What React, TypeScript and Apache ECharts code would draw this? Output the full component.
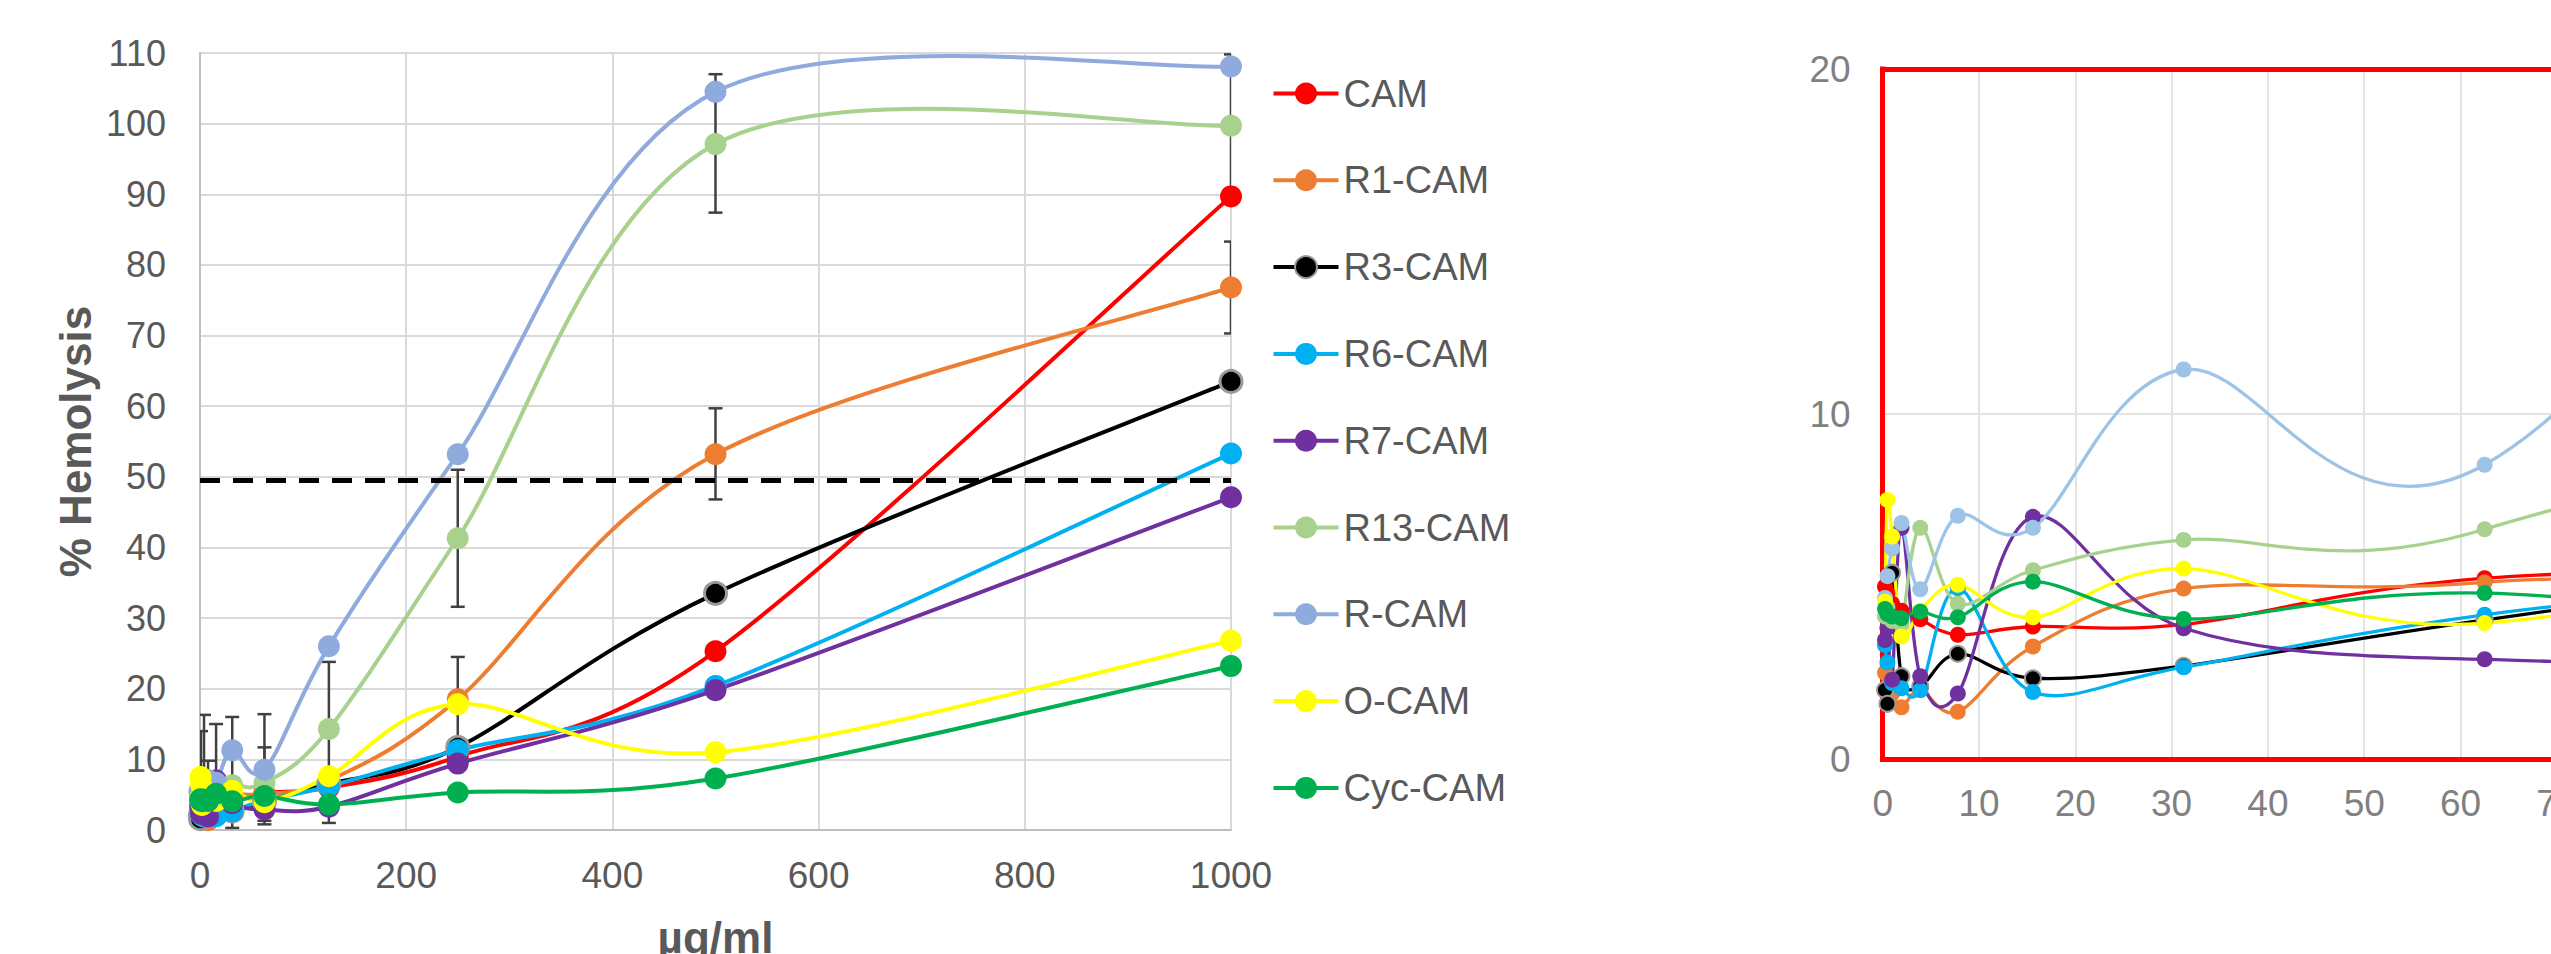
import React, { useEffect, useRef } from 'react';
import * as echarts from 'echarts';

// Concentrations (µg/ml)
const concentrations = [0.24, 0.49, 0.98, 1.95, 3.9, 7.8, 15.6, 31.25, 62.5, 125, 250, 500, 1000];

const seriesNames = ['CAM', 'R1-CAM', 'R3-CAM', 'R6-CAM', 'R7-CAM', 'R13-CAM', 'R-CAM', 'O-CAM', 'Cyc-CAM'];

// % Hemolysis per series
const cam = [5.0, 4.8, 4.5, 4.3, 4.05, 3.6, 3.84, 3.9, 5.24, 6.0, 10.4, 25.3, 89.7];
const r1Cam = [2.5, 2.1, 1.9, 1.5, 2.0, 1.37, 3.26, 4.94, 5.12, 7.0, 18.5, 53.2, 76.8];
const r3Cam = [2.0, 1.6, 5.4, 2.4, 2.1, 3.05, 2.34, 2.7, 4.03, 6.5, 11.7, 33.5, 63.5];
const r6Cam = [3.3, 2.8, 2.2, 2.05, 2.0, 4.95, 1.94, 2.66, 4.18, 6.2, 11.3, 20.4, 53.3];
const r7Cam = [3.45, 3.8, 2.3, 6.7, 2.4, 1.9, 7.02, 3.79, 2.89, 3.3, 9.4, 19.8, 47.1];
const r13Cam = [4.13, 4.4, 4.0, 3.9, 6.7, 4.5, 5.47, 6.35, 6.66, 14.3, 41.3, 97.1, 99.7];
const rCam = [4.67, 5.3, 6.1, 6.84, 4.92, 7.05, 6.7, 11.29, 8.53, 26.0, 53.2, 104.5, 108.1];
const oCam = [4.56, 7.51, 6.45, 3.55, 4.3, 5.05, 4.11, 5.52, 3.94, 7.6, 17.8, 11.0, 26.8];
const cycCam = [4.35, 4.2, 4.13, 4.08, 4.27, 4.11, 5.14, 4.06, 4.81, 3.6, 5.3, 7.3, 23.2];

const mainColors = ['#FF0000', '#ED7D31', '#000000', '#00B0F0', '#7030A0', '#A9D18E', '#8FAADC', '#FFFF00', '#00B050'];
const insetColors = ['#FF0000', '#ED7D31', '#000000', '#00B0F0', '#7030A0', '#A9D18E', '#9DC3E6', '#FFFF00', '#00B050'];

// Error bars: [concentration, low, high]
const errorBars = [
  [0.98, 1.5, 14.0],
  [3.9, 2.0, 16.3],
  [7.8, 1.0, 9.8],
  [15.6, 3.0, 15.0],
  [31.25, 0.3, 16.0],
  [62.5, 0.8, 16.4],
  [62.5, 1.3, 11.7],
  [125, 4.8, 23.8],
  [125, 1.0, 6.2],
  [250, 31.6, 51.0],
  [250, 11.6, 24.5],
  [500, 87.4, 107.0],
  [500, 46.8, 59.7],
  [1000, 89.6, 109.8],
  [1000, 70.3, 83.3],
];

const threshold = 49.5;
const insetPointCount = 10; // inset markers up to 125 µg/ml

const FONT = "'Liberation Sans', Arial, sans-serif";

export default function App() {
  const ref = useRef<HTMLDivElement>(null);

  useEffect(() => {
    const chart = echarts.init(ref.current as HTMLDivElement, null, { renderer: 'svg' });
    const values = [cam, r1Cam, r3Cam, r6Cam, r7Cam, r13Cam, rCam, oCam, cycCam];
    const pairs = (arr: number[], n: number) => concentrations.slice(0, n).map((x, i) => [x, arr[i]]);

    // Smoothed curve (Catmull-Rom style Bezier segments) drawn through the axis scales
    const curve = (vals: number[], color: string, width: number, axis: number) => ({
      type: 'custom',
      xAxisIndex: axis,
      yAxisIndex: axis,
      clip: true,
      silent: true,
      z: 2,
      data: pairs(vals, concentrations.length),
      encode: { x: 0, y: 1 },
      renderItem: (params: any, api: any) => {
        const i = params.dataIndex;
        const n = concentrations.length;
        if (i >= n - 1) return null;
        const P = (k: number) => api.coord([concentrations[k], vals[k]]);
        const p0 = P(Math.max(i - 1, 0));
        const p1 = P(i);
        const p2 = P(i + 1);
        const p3 = P(Math.min(i + 2, n - 1));
        return {
          type: 'bezierCurve',
          shape: {
            x1: p1[0],
            y1: p1[1],
            cpx1: p1[0] + (p2[0] - p0[0]) / 6,
            cpy1: p1[1] + (p2[1] - p0[1]) / 6,
            cpx2: p2[0] - (p3[0] - p1[0]) / 6,
            cpy2: p2[1] - (p3[1] - p1[1]) / 6,
            x2: p2[0],
            y2: p2[1],
          },
          style: { stroke: color, lineWidth: width, fill: 'none' },
        };
      },
    });

    const mainCurves = values.map((v, i) => curve(v, mainColors[i], 4, 0));
    const insetCurves = values.map((v, i) => curve(v, insetColors[i], 3.3, 1));

    const mainMarkers: any[] = values.map((v, i) => ({
      name: seriesNames[i],
      type: 'line',
      xAxisIndex: 0,
      yAxisIndex: 0,
      data: pairs(v, concentrations.length),
      symbol: 'circle',
      symbolSize: 22,
      lineStyle: { width: 4, color: mainColors[i], opacity: 0 },
      itemStyle: {
        color: mainColors[i],
        borderColor: i === 2 ? '#9A9A9A' : mainColors[i],
        borderWidth: i === 2 ? 3 : 0,
      },
      z: 3,
      ...(i === 0
        ? {
            markLine: {
              silent: true,
              symbol: ['none', 'none'],
              label: { show: false },
              lineStyle: { color: '#000000', width: 5, type: [20, 13], opacity: 1 },
              data: [{ yAxis: threshold }],
            },
          }
        : {}),
    }));

    const insetMarkers: any[] = values.map((v, i) => ({
      name: seriesNames[i],
      type: 'line',
      xAxisIndex: 1,
      yAxisIndex: 1,
      data: pairs(v, insetPointCount),
      symbol: 'circle',
      symbolSize: 16,
      lineStyle: { width: 3.3, color: insetColors[i], opacity: 0 },
      itemStyle: {
        color: insetColors[i],
        borderColor: i === 2 ? '#9A9A9A' : insetColors[i],
        borderWidth: i === 2 ? 2 : 0,
      },
      z: 3,
    }));

    const errorSeries = {
      type: 'custom',
      xAxisIndex: 0,
      yAxisIndex: 0,
      clip: true,
      silent: true,
      z: 1,
      data: errorBars,
      encode: { x: 0, y: [1, 2] },
      renderItem: (params: any, api: any) => {
        const x = api.value(0);
        const pHi = api.coord([x, api.value(2)]);
        const pLo = api.coord([x, api.value(1)]);
        const w = 7;
        const style = { stroke: '#404040', lineWidth: 2.5 };
        return {
          type: 'group',
          children: [
            { type: 'line', shape: { x1: pHi[0], y1: pHi[1], x2: pLo[0], y2: pLo[1] }, style },
            { type: 'line', shape: { x1: pHi[0] - w, y1: pHi[1], x2: pHi[0] + w, y2: pHi[1] }, style },
            { type: 'line', shape: { x1: pLo[0] - w, y1: pLo[1], x2: pLo[0] + w, y2: pLo[1] }, style },
          ],
        };
      },
    };

    const redFrame = { show: true, onZero: false, lineStyle: { color: '#FF0000', width: 5, cap: 'square' } };

    chart.setOption({
      animation: false,
      backgroundColor: '#FFFFFF',
      textStyle: { fontFamily: FONT },
      legend: {
        data: seriesNames,
        orient: 'vertical',
        left: 1266.5,
        top: 69.5,
        itemWidth: 65,
        itemHeight: 27.5,
        itemGap: 48.8,
        selectedMode: false,
        lineStyle: { width: 4, opacity: 1 },
        textStyle: { fontSize: 38, color: '#595959', fontFamily: FONT, lineHeight: 27.5 },
      },
      grid: [
        { left: 200, top: 53, width: 1031, height: 777, outerBoundsMode: 'none' },
        { left: 1882.7, top: 69, width: 1252, height: 690, outerBoundsMode: 'none' },
      ],
      xAxis: [
        {
          type: 'value',
          gridIndex: 0,
          min: 0,
          max: 1000,
          interval: 200,
          name: 'µg/ml',
          nameLocation: 'middle',
          nameGap: 85,
          nameTextStyle: { fontSize: 44, fontWeight: 'bold', color: '#595959', fontFamily: FONT, lineHeight: 44 },
          axisLine: { show: true, lineStyle: { color: '#BFBFBF', width: 2 } },
          axisTick: { show: false },
          axisLabel: {
            fontSize: 37,
            color: '#595959',
            margin: 27,
            lineHeight: 37,
            fontFamily: FONT,
            formatter: (v: number) => String(v),
          },
          splitLine: { show: true, lineStyle: { color: '#D9D9D9', width: 2 } },
        },
        {
          type: 'value',
          gridIndex: 1,
          min: 0,
          max: 130,
          interval: 10,
          position: 'bottom',
          axisLine: redFrame,
          axisTick: { show: false },
          axisLabel: {
            fontSize: 37,
            color: '#808080',
            margin: 26,
            lineHeight: 37,
            fontFamily: FONT,
            formatter: (v: number) => String(v),
          },
          splitLine: { show: true, lineStyle: { color: '#E3E3E3', width: 2 } },
          z: 1,
        },
        {
          type: 'value',
          gridIndex: 1,
          min: 0,
          max: 130,
          interval: 10,
          position: 'top',
          axisLine: redFrame,
          axisTick: { show: false },
          axisLabel: { show: false },
          splitLine: { show: false },
          z: 1,
        },
      ],
      yAxis: [
        {
          type: 'value',
          gridIndex: 0,
          min: 0,
          max: 110,
          interval: 10,
          name: '% Hemolysis',
          nameLocation: 'middle',
          nameGap: 103,
          nameTextStyle: { fontSize: 44, fontWeight: 'bold', color: '#595959', fontFamily: FONT, lineHeight: 44 },
          axisLine: { show: true, lineStyle: { color: '#BFBFBF', width: 2 } },
          axisTick: { show: false },
          axisLabel: { fontSize: 36, color: '#595959', margin: 34, fontFamily: FONT },
          splitLine: { show: true, lineStyle: { color: '#D9D9D9', width: 2 } },
        },
        {
          type: 'value',
          gridIndex: 1,
          min: 0,
          max: 20,
          interval: 10,
          axisLine: redFrame,
          axisTick: { show: false },
          axisLabel: { fontSize: 37, color: '#808080', margin: 32, fontFamily: FONT },
          splitLine: { show: true, lineStyle: { color: '#E3E3E3', width: 2 } },
          z: 1,
        },
      ],
      series: [errorSeries, ...mainCurves, ...insetCurves, ...mainMarkers, ...insetMarkers],
    });

    return () => {
      chart.dispose();
    };
  }, []);

  return (
    <div
      ref={ref}
      style={{ position: 'absolute', left: 0, top: 0, width: 2551, height: 954, background: '#FFFFFF' }}
    />
  );
}
